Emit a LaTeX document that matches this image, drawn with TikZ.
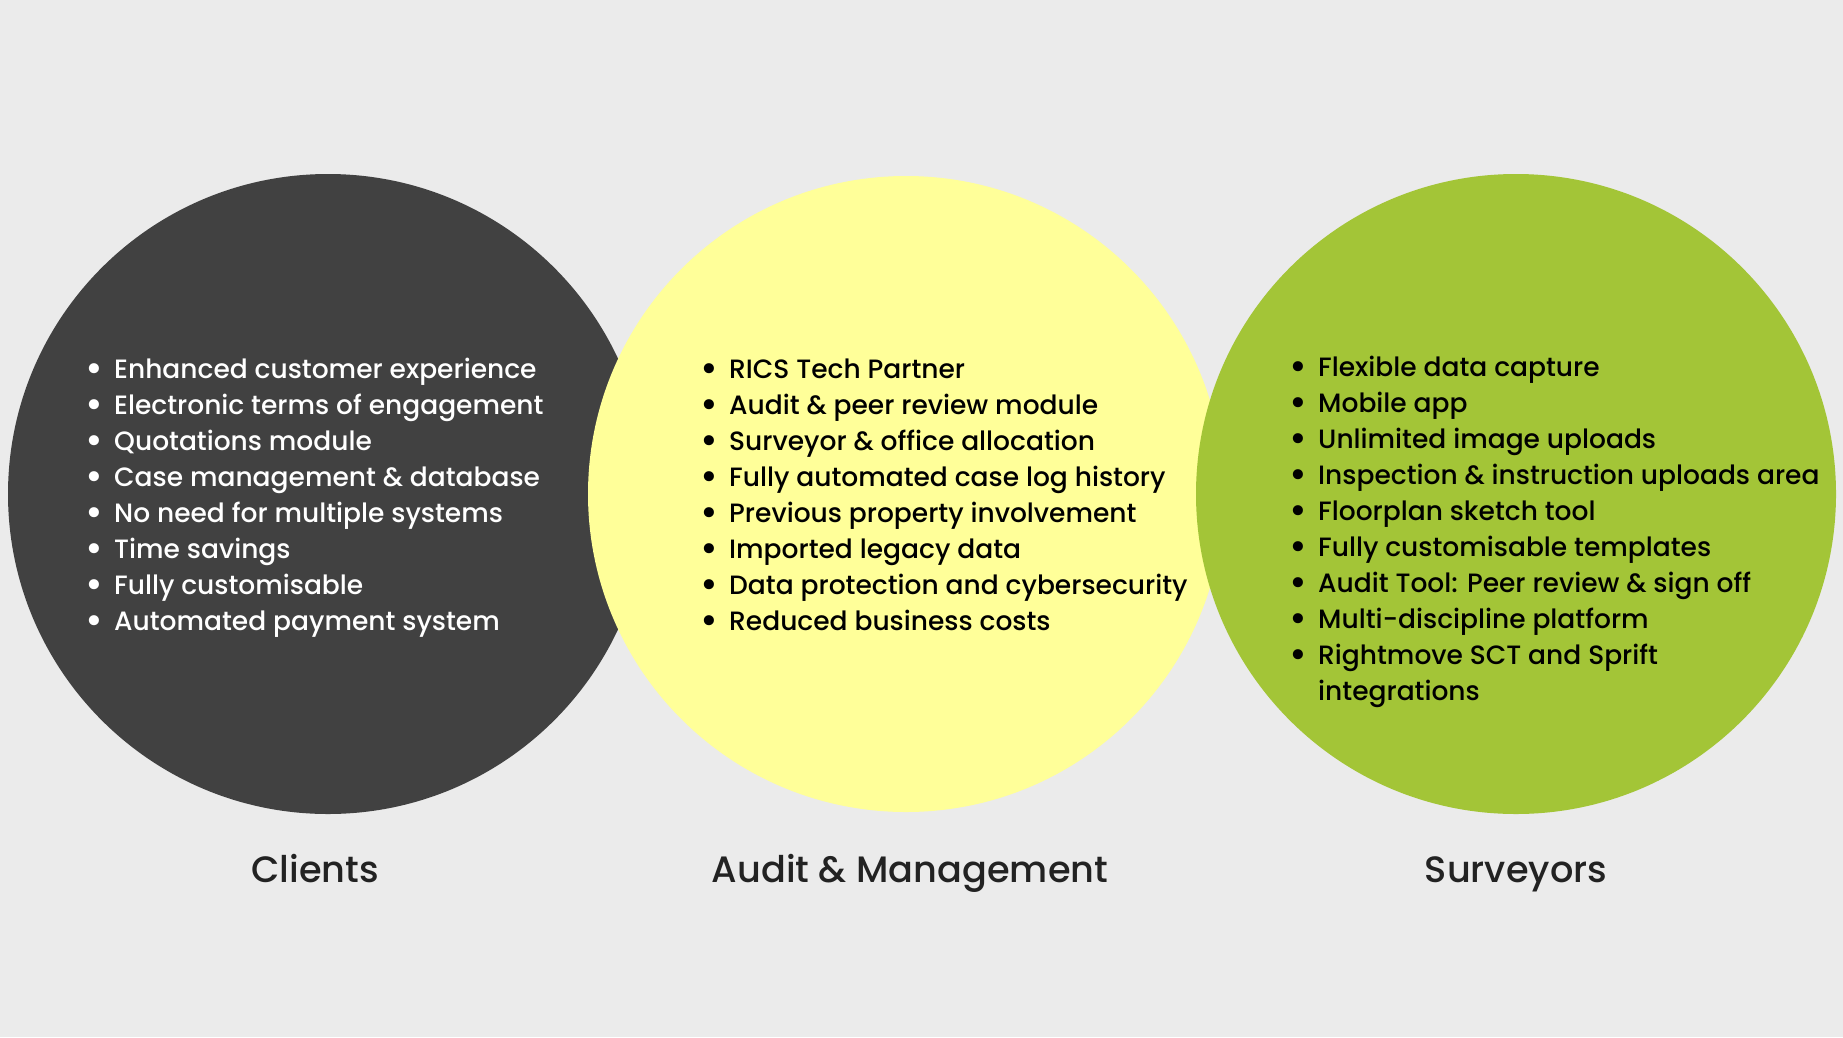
\documentclass[tikz,border=0pt]{standalone}
\usepackage{fontspec}
\setmainfont{Poppins Medium}
\definecolor{bgc}{HTML}{EBEBEB}
\definecolor{darkc}{HTML}{414141}
\definecolor{yelc}{HTML}{FFFF99}
\definecolor{grnc}{HTML}{A3C537}
\definecolor{titc}{HTML}{222222}
\newcommand{\bul}[1]{\makebox[28.5pt][l]{\raisebox{-0.12em}{\scalebox{1.45}{•}}}#1}
\begin{document}
\begin{tikzpicture}[x=1pt,y=-1pt,
  litem/.style={anchor=base west,inner sep=0pt,font=\fontsize{26.5}{36}\selectfont},
  ttl/.style={anchor=base,inner sep=0pt,text=titc,font=\fontsize{36.7}{42}\selectfont}]
\path[fill=bgc,use as bounding box] (0,0) rectangle (1843,1037);
\fill[darkc] (328,494) circle (320pt);
\fill[yelc] (906,494) circle (318pt);
\fill[grnc] (1516,494) circle (320pt);
\foreach \t [count=\i] in {Enhanced customer experience,Electronic terms of engagement,Quotations module,Case management \& database,No need for multiple systems,Time savings,Fully customisable,Automated payment system}
  \node[litem,text=white] (cl\i) at (85.5,{378+36*(\i-1)}) {\bul{\t}};
\foreach \t [count=\i] in {RICS Tech Partner,Audit \& peer review module,Surveyor \& office allocation,Fully automated case log history,Previous property involvement,Imported legacy data,Data protection and cybersecurity,Reduced business costs}
  \node[litem,text=black] (am\i) at (700.5,{378+36*(\i-1)}) {\bul{\t}};
\foreach \t [count=\i] in {Flexible data capture,Mobile app,Unlimited image uploads,Inspection \& instruction uploads area,Floorplan sketch tool,Fully customisable templates,Audit Tool: Peer review \& sign off,Multi-discipline platform,Rightmove SCT and Sprift}
  \node[litem,text=black] (sv\i) at (1289.5,{376+36*(\i-1)}) {\bul{\t}};
\node[litem,text=black] (sv10) at (1318,{376+36*9}) {integrations};
\node[ttl] (tcl) at (315,882) {Clients};
\node[ttl] (tam) at (910,882) {Audit \& Management};
\node[ttl] (tsv) at (1516,882) {Surveyors};
\end{tikzpicture}
\end{document}
